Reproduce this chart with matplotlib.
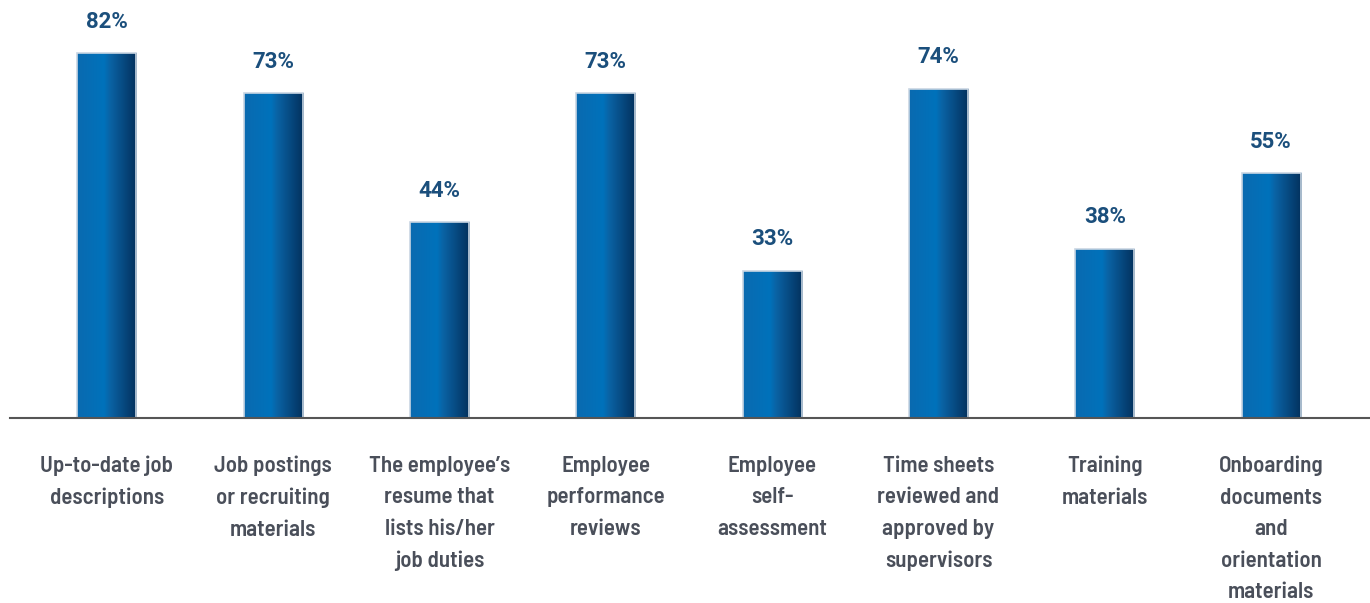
import matplotlib
matplotlib.use("Agg")
import matplotlib.pyplot as plt
import numpy as np
from matplotlib.colors import LinearSegmentedColormap

categories = [
    "Up-to-date job\ndescriptions",
    "Job postings\nor recruiting\nmaterials",
    "The employee\u2019s\nresume that\nlists his/her\njob duties",
    "Employee\nperformance\nreviews",
    "Employee\nself-\nassessment",
    "Time sheets\nreviewed and\napproved by\nsupervisors",
    "Training\nmaterials",
    "Onboarding\ndocuments\nand\norientation\nmaterials",
]
values = [82, 73, 44, 73, 33, 74, 38, 55]
value_labels = [f"{v}%" for v in values]

COND = ["Barlow Semi Condensed", "Roboto Condensed", "DejaVu Sans"]
VALF = ["Roboto", "DejaVu Sans"]

fig = plt.figure(figsize=(13.70, 6.03), dpi=100)
ax = fig.add_axes([10/1370, 185/603, 1360/1370, 418/603])

x = np.arange(len(categories))
bars = ax.bar(x, values, width=0.355, color="none", edgecolor="#c9d6e3", linewidth=1.2, zorder=2)

cmap = LinearSegmentedColormap.from_list(
    "g", [(0.0, "#0a6ab0"), (0.45, "#0072bb"), (0.55, "#0a63a5"), (1.0, "#03305c")])
grad = np.linspace(0, 1, 256).reshape(1, -1)
for b in bars:
    x0, y0 = b.get_x(), b.get_y()
    w, h = b.get_width(), b.get_height()
    im = ax.imshow(grad, cmap=cmap, aspect="auto", extent=[x0, x0 + w, y0, y0 + h],
                   zorder=1, interpolation="bilinear")
    im.set_clip_path(b)

for xi, v, lab in zip(x, values, value_labels):
    ax.annotate(lab, (xi, v), xytext=(0, 15), textcoords="offset points",
                ha="center", va="bottom", fontsize=16, fontweight="bold",
                color="#1b4f7c", family=VALF)

ax.set_xlim(-0.583, 7.595)
ax.set_ylim(0, 94)
for s in ["top", "right", "left"]:
    ax.spines[s].set_visible(False)
ax.spines["bottom"].set_color("#555555")
ax.spines["bottom"].set_linewidth(1.5)
ax.set_yticks([])
ax.set_xticks(x)
ax.set_xticklabels(categories, fontsize=16.5, fontweight="semibold", color="#4a4f5a",
                   family=COND, linespacing=1.72)
ax.tick_params(axis="x", length=0, pad=27)

fig.savefig("out.png", dpi=100)
